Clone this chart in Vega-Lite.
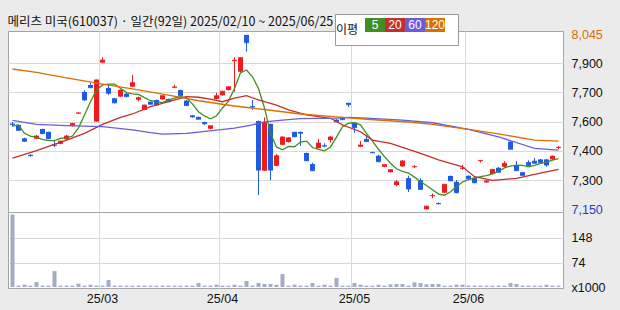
{
"$schema": "https://vega.github.io/schema/vega-lite/v6.json",
"background": "#ebebeb",
"padding": {"left": 7, "top": 13, "right": 40, "bottom": 30},
"bounds": "flush",
"title": {"text": "메리츠 미국(610037) · 일간(92일) 2025/02/10 ~ 2025/06/25", "anchor": "start", "font": "Noto Sans CJK KR", "fontSize": 12.5, "fontWeight": "normal", "color": "#111111", "offset": -15},
"spacing": 0,
"datasets": {
"candles": [
{"d":"2025-02-10","o":7590,"h":7598,"l":7575,"c":7584,"vol":219},
{"d":"2025-02-11","o":7583,"h":7586,"l":7553,"c":7555,"vol":4},
{"d":"2025-02-12","o":7514,"h":7518,"l":7497,"c":7499,"vol":7},
{"d":"2025-02-13","o":7430,"h":7432,"l":7420,"c":7425,"vol":4},
{"d":"2025-02-14","o":7512,"h":7532,"l":7510,"c":7526,"vol":15},
{"d":"2025-02-17","o":7562,"h":7564,"l":7536,"c":7538,"vol":4},
{"d":"2025-02-18","o":7547,"h":7549,"l":7510,"c":7512,"vol":4},
{"d":"2025-02-19","o":7482,"h":7500,"l":7470,"c":7478,"vol":48},
{"d":"2025-02-20","o":7486,"h":7502,"l":7484,"c":7500,"vol":4},
{"d":"2025-02-21","o":7509,"h":7532,"l":7505,"c":7526,"vol":4},
{"d":"2025-02-24","o":7577,"h":7593,"l":7575,"c":7591,"vol":4},
{"d":"2025-02-25","o":7641,"h":7647,"l":7639,"c":7645,"vol":10},
{"d":"2025-02-26","o":7752,"h":7762,"l":7706,"c":7711,"vol":4},
{"d":"2025-02-27","o":7788,"h":7800,"l":7772,"c":7774,"vol":7},
{"d":"2025-02-28","o":7600,"h":7816,"l":7598,"c":7814,"vol":4},
{"d":"2025-03-04","o":7903,"h":7930,"l":7901,"c":7916,"vol":4},
{"d":"2025-03-05","o":7773,"h":7792,"l":7737,"c":7745,"vol":21},
{"d":"2025-03-06","o":7720,"h":7722,"l":7693,"c":7696,"vol":4},
{"d":"2025-03-07","o":7728,"h":7764,"l":7726,"c":7762,"vol":4},
{"d":"2025-03-10","o":7743,"h":7750,"l":7725,"c":7728,"vol":4},
{"d":"2025-03-11","o":7779,"h":7839,"l":7777,"c":7800,"vol":4},
{"d":"2025-03-12","o":7712,"h":7728,"l":7703,"c":7723,"vol":4},
{"d":"2025-03-13","o":7660,"h":7687,"l":7658,"c":7685,"vol":4},
{"d":"2025-03-14","o":7702,"h":7704,"l":7687,"c":7689,"vol":4},
{"d":"2025-03-17","o":7711,"h":7713,"l":7683,"c":7685,"vol":4},
{"d":"2025-03-18","o":7714,"h":7735,"l":7712,"c":7733,"vol":4},
{"d":"2025-03-19","o":7716,"h":7718,"l":7700,"c":7702,"vol":4},
{"d":"2025-03-20","o":7774,"h":7790,"l":7772,"c":7778,"vol":4},
{"d":"2025-03-21","o":7762,"h":7764,"l":7731,"c":7733,"vol":4},
{"d":"2025-03-24","o":7708,"h":7710,"l":7680,"c":7682,"vol":4},
{"d":"2025-03-25","o":7632,"h":7634,"l":7620,"c":7624,"vol":4},
{"d":"2025-03-26","o":7624,"h":7626,"l":7610,"c":7612,"vol":12},
{"d":"2025-03-27","o":7598,"h":7600,"l":7582,"c":7589,"vol":4},
{"d":"2025-03-28","o":7563,"h":7581,"l":7561,"c":7579,"vol":4},
{"d":"2025-03-31","o":7716,"h":7748,"l":7714,"c":7733,"vol":7},
{"d":"2025-04-01","o":7735,"h":7758,"l":7733,"c":7756,"vol":4},
{"d":"2025-04-02","o":7762,"h":7781,"l":7760,"c":7779,"vol":4},
{"d":"2025-04-03","o":7910,"h":7930,"l":7754,"c":7915,"vol":7},
{"d":"2025-04-04","o":7856,"h":7930,"l":7854,"c":7928,"vol":4},
{"d":"2025-04-07","o":8045,"h":8045,"l":7959,"c":8005,"vol":18},
{"d":"2025-04-08","o":7679,"h":7711,"l":7660,"c":7675,"vol":4},
{"d":"2025-04-09","o":7603,"h":7605,"l":7223,"c":7351,"vol":12},
{"d":"2025-04-10","o":7348,"h":7622,"l":7346,"c":7596,"vol":9},
{"d":"2025-04-11","o":7588,"h":7590,"l":7300,"c":7351,"vol":9},
{"d":"2025-04-14","o":7373,"h":7433,"l":7371,"c":7425,"vol":7},
{"d":"2025-04-15","o":7481,"h":7525,"l":7479,"c":7521,"vol":39},
{"d":"2025-04-16","o":7495,"h":7521,"l":7492,"c":7517,"vol":4},
{"d":"2025-04-17","o":7547,"h":7549,"l":7520,"c":7522,"vol":7},
{"d":"2025-04-18","o":7547,"h":7549,"l":7476,"c":7540,"vol":4},
{"d":"2025-04-21","o":7439,"h":7441,"l":7397,"c":7399,"vol":4},
{"d":"2025-04-22","o":7382,"h":7389,"l":7346,"c":7348,"vol":12},
{"d":"2025-04-23","o":7464,"h":7511,"l":7462,"c":7490,"vol":4},
{"d":"2025-04-24","o":7478,"h":7488,"l":7468,"c":7474,"vol":7},
{"d":"2025-04-25","o":7505,"h":7526,"l":7493,"c":7521,"vol":4},
{"d":"2025-04-28","o":7610,"h":7612,"l":7597,"c":7599,"vol":27},
{"d":"2025-04-29","o":7622,"h":7624,"l":7608,"c":7610,"vol":4},
{"d":"2025-04-30","o":7696,"h":7698,"l":7676,"c":7687,"vol":4},
{"d":"2025-05-02","o":7594,"h":7596,"l":7543,"c":7569,"vol":12},
{"d":"2025-05-07","o":7471,"h":7500,"l":7469,"c":7480,"vol":7},
{"d":"2025-05-08","o":7511,"h":7526,"l":7495,"c":7497,"vol":4},
{"d":"2025-05-09","o":7444,"h":7446,"l":7438,"c":7440,"vol":4},
{"d":"2025-05-12","o":7425,"h":7430,"l":7392,"c":7394,"vol":7},
{"d":"2025-05-13","o":7368,"h":7381,"l":7366,"c":7379,"vol":4},
{"d":"2025-05-14","o":7341,"h":7356,"l":7338,"c":7353,"vol":8},
{"d":"2025-05-15","o":7274,"h":7300,"l":7270,"c":7291,"vol":9},
{"d":"2025-05-16","o":7370,"h":7403,"l":7368,"c":7398,"vol":9},
{"d":"2025-05-19","o":7310,"h":7322,"l":7239,"c":7254,"vol":4},
{"d":"2025-05-20","o":7366,"h":7376,"l":7362,"c":7370,"vol":14},
{"d":"2025-05-21","o":7300,"h":7310,"l":7250,"c":7252,"vol":12},
{"d":"2025-05-22","o":7150,"h":7168,"l":7150,"c":7166,"vol":8},
{"d":"2025-05-23","o":7217,"h":7231,"l":7206,"c":7221,"vol":9},
{"d":"2025-05-26","o":7182,"h":7186,"l":7176,"c":7178,"vol":9},
{"d":"2025-05-27","o":7235,"h":7280,"l":7233,"c":7278,"vol":4},
{"d":"2025-05-28","o":7321,"h":7323,"l":7294,"c":7296,"vol":4},
{"d":"2025-05-29","o":7291,"h":7300,"l":7232,"c":7235,"vol":7},
{"d":"2025-05-30","o":7358,"h":7377,"l":7352,"c":7362,"vol":7},
{"d":"2025-06-02","o":7322,"h":7324,"l":7305,"c":7307,"vol":4},
{"d":"2025-06-04","o":7312,"h":7314,"l":7284,"c":7286,"vol":4},
{"d":"2025-06-05","o":7397,"h":7403,"l":7390,"c":7401,"vol":4},
{"d":"2025-06-09","o":7288,"h":7298,"l":7286,"c":7296,"vol":4},
{"d":"2025-06-10","o":7331,"h":7357,"l":7329,"c":7355,"vol":4},
{"d":"2025-06-11","o":7363,"h":7368,"l":7338,"c":7340,"vol":4},
{"d":"2025-06-12","o":7368,"h":7397,"l":7366,"c":7386,"vol":4},
{"d":"2025-06-13","o":7497,"h":7502,"l":7456,"c":7458,"vol":12},
{"d":"2025-06-16","o":7377,"h":7397,"l":7346,"c":7348,"vol":9},
{"d":"2025-06-17","o":7340,"h":7342,"l":7322,"c":7324,"vol":4},
{"d":"2025-06-18","o":7392,"h":7401,"l":7373,"c":7375,"vol":4},
{"d":"2025-06-19","o":7399,"h":7413,"l":7384,"c":7386,"vol":4},
{"d":"2025-06-20","o":7406,"h":7408,"l":7387,"c":7389,"vol":4},
{"d":"2025-06-23","o":7406,"h":7408,"l":7368,"c":7377,"vol":7},
{"d":"2025-06-24","o":7406,"h":7425,"l":7404,"c":7423,"vol":4},
{"d":"2025-06-25","o":7464,"h":7476,"l":7459,"c":7468,"vol":4}
],
"ma": [
{"d":"2025-02-10","k":"5","v":7577},{"d":"2025-02-11","k":"5","v":7583},{"d":"2025-02-12","k":"5","v":7540},{"d":"2025-02-13","k":"5","v":7526},{"d":"2025-02-14","k":"5","v":7519},
{"d":"2025-02-17","k":"5","v":7509},{"d":"2025-02-18","k":"5","v":7502},{"d":"2025-02-19","k":"5","v":7502},{"d":"2025-02-20","k":"5","v":7514},{"d":"2025-02-21","k":"5","v":7517},
{"d":"2025-02-24","k":"5","v":7526},{"d":"2025-02-25","k":"5","v":7568},{"d":"2025-02-26","k":"5","v":7634},{"d":"2025-02-27","k":"5","v":7702},{"d":"2025-02-28","k":"5","v":7762},
{"d":"2025-03-04","k":"5","v":7788},{"d":"2025-03-05","k":"5","v":7792},{"d":"2025-03-06","k":"5","v":7792},{"d":"2025-03-07","k":"5","v":7771},
{"d":"2025-03-10","k":"5","v":7749},{"d":"2025-03-11","k":"5","v":7742},{"d":"2025-03-12","k":"5","v":7740},{"d":"2025-03-13","k":"5","v":7723},{"d":"2025-03-14","k":"5","v":7707},
{"d":"2025-03-17","k":"5","v":7702},{"d":"2025-03-18","k":"5","v":7697},{"d":"2025-03-19","k":"5","v":7711},{"d":"2025-03-20","k":"5","v":7720},{"d":"2025-03-21","k":"5","v":7728},
{"d":"2025-03-24","k":"5","v":7723},{"d":"2025-03-25","k":"5","v":7690},{"d":"2025-03-26","k":"5","v":7651},{"d":"2025-03-27","k":"5","v":7629},{"d":"2025-03-28","k":"5","v":7614},
{"d":"2025-03-31","k":"5","v":7630},
{"d":"2025-04-01","k":"5","v":7670},{"d":"2025-04-02","k":"5","v":7705},{"d":"2025-04-03","k":"5","v":7770},{"d":"2025-04-04","k":"5","v":7850},
{"d":"2025-04-07","k":"5","v":7865},{"d":"2025-04-08","k":"5","v":7830},{"d":"2025-04-09","k":"5","v":7770},{"d":"2025-04-10","k":"5","v":7670},{"d":"2025-04-11","k":"5","v":7540},
{"d":"2025-04-14","k":"5","v":7470},{"d":"2025-04-15","k":"5","v":7455},{"d":"2025-04-16","k":"5","v":7473},{"d":"2025-04-17","k":"5","v":7471},{"d":"2025-04-18","k":"5","v":7495},
{"d":"2025-04-21","k":"5","v":7500},{"d":"2025-04-22","k":"5","v":7467},{"d":"2025-04-23","k":"5","v":7458},{"d":"2025-04-24","k":"5","v":7450},{"d":"2025-04-25","k":"5","v":7470},
{"d":"2025-04-28","k":"5","v":7520},{"d":"2025-04-29","k":"5","v":7574},{"d":"2025-04-30","k":"5","v":7592},
{"d":"2025-05-02","k":"5","v":7594},{"d":"2025-05-07","k":"5","v":7583},{"d":"2025-05-08","k":"5","v":7540},{"d":"2025-05-09","k":"5","v":7500},
{"d":"2025-05-12","k":"5","v":7458},{"d":"2025-05-13","k":"5","v":7420},{"d":"2025-05-14","k":"5","v":7386},{"d":"2025-05-15","k":"5","v":7358},{"d":"2025-05-16","k":"5","v":7345},
{"d":"2025-05-19","k":"5","v":7336},{"d":"2025-05-20","k":"5","v":7315},{"d":"2025-05-21","k":"5","v":7291},{"d":"2025-05-22","k":"5","v":7272},{"d":"2025-05-23","k":"5","v":7250},
{"d":"2025-05-26","k":"5","v":7228},{"d":"2025-05-27","k":"5","v":7222},{"d":"2025-05-28","k":"5","v":7240},{"d":"2025-05-29","k":"5","v":7265},{"d":"2025-05-30","k":"5","v":7290},
{"d":"2025-06-02","k":"5","v":7302},{"d":"2025-06-04","k":"5","v":7310},{"d":"2025-06-05","k":"5","v":7317},
{"d":"2025-06-09","k":"5","v":7323},{"d":"2025-06-10","k":"5","v":7332},{"d":"2025-06-11","k":"5","v":7345},{"d":"2025-06-12","k":"5","v":7362},{"d":"2025-06-13","k":"5","v":7372},
{"d":"2025-06-16","k":"5","v":7377},{"d":"2025-06-17","k":"5","v":7375},{"d":"2025-06-18","k":"5","v":7368},{"d":"2025-06-19","k":"5","v":7375},{"d":"2025-06-20","k":"5","v":7386},
{"d":"2025-06-23","k":"5","v":7392},{"d":"2025-06-24","k":"5","v":7402},{"d":"2025-06-25","k":"5","v":7410},
{"d":"2025-02-10","k":"20","v":7412},{"d":"2025-02-14","k":"20","v":7451},{"d":"2025-02-21","k":"20","v":7505},{"d":"2025-02-26","k":"20","v":7540},{"d":"2025-03-04","k":"20","v":7586},
{"d":"2025-03-07","k":"20","v":7622},{"d":"2025-03-11","k":"20","v":7639},{"d":"2025-03-14","k":"20","v":7677},{"d":"2025-03-19","k":"20","v":7702},{"d":"2025-03-24","k":"20","v":7728},
{"d":"2025-03-26","k":"20","v":7725},{"d":"2025-03-28","k":"20","v":7715},{"d":"2025-04-01","k":"20","v":7702},{"d":"2025-04-03","k":"20","v":7720},{"d":"2025-04-07","k":"20","v":7733},
{"d":"2025-04-09","k":"20","v":7711},{"d":"2025-04-14","k":"20","v":7685},{"d":"2025-04-16","k":"20","v":7660},{"d":"2025-04-21","k":"20","v":7634},{"d":"2025-04-25","k":"20","v":7617},
{"d":"2025-04-29","k":"20","v":7583},{"d":"2025-05-07","k":"20","v":7548},{"d":"2025-05-09","k":"20","v":7505},{"d":"2025-05-14","k":"20","v":7488},{"d":"2025-05-16","k":"20","v":7468},
{"d":"2025-05-21","k":"20","v":7437},{"d":"2025-05-26","k":"20","v":7403},{"d":"2025-05-30","k":"20","v":7368},{"d":"2025-06-04","k":"20","v":7317},{"d":"2025-06-10","k":"20","v":7298},
{"d":"2025-06-16","k":"20","v":7309},{"d":"2025-06-19","k":"20","v":7329},{"d":"2025-06-25","k":"20","v":7355},
{"d":"2025-02-10","k":"60","v":7606},{"d":"2025-02-14","k":"60","v":7586},{"d":"2025-02-21","k":"60","v":7579},{"d":"2025-03-04","k":"60","v":7574},{"d":"2025-03-11","k":"60","v":7557},
{"d":"2025-03-14","k":"60","v":7543},{"d":"2025-03-18","k":"60","v":7536},{"d":"2025-03-24","k":"60","v":7540},{"d":"2025-03-26","k":"60","v":7546},{"d":"2025-04-03","k":"60","v":7566},
{"d":"2025-04-08","k":"60","v":7583},{"d":"2025-04-10","k":"60","v":7599},{"d":"2025-04-15","k":"60","v":7608},{"d":"2025-04-18","k":"60","v":7615},{"d":"2025-04-28","k":"60","v":7618},
{"d":"2025-04-30","k":"60","v":7622},{"d":"2025-05-08","k":"60","v":7618},{"d":"2025-05-16","k":"60","v":7608},{"d":"2025-05-23","k":"60","v":7594},{"d":"2025-06-02","k":"60","v":7560},
{"d":"2025-06-11","k":"60","v":7522},{"d":"2025-06-19","k":"60","v":7463},{"d":"2025-06-25","k":"60","v":7454},
{"d":"2025-02-10","k":"120","v":7870},{"d":"2025-02-14","k":"120","v":7853},{"d":"2025-02-21","k":"120","v":7824},{"d":"2025-03-04","k":"120","v":7792},{"d":"2025-03-11","k":"120","v":7768},
{"d":"2025-03-19","k":"120","v":7736},{"d":"2025-03-26","k":"120","v":7707},{"d":"2025-04-03","k":"120","v":7680},{"d":"2025-04-10","k":"120","v":7662},{"d":"2025-04-18","k":"120","v":7639},
{"d":"2025-04-28","k":"120","v":7624},{"d":"2025-05-08","k":"120","v":7612},{"d":"2025-05-19","k":"120","v":7598},{"d":"2025-05-23","k":"120","v":7586},{"d":"2025-06-02","k":"120","v":7560},
{"d":"2025-06-11","k":"120","v":7537},{"d":"2025-06-19","k":"120","v":7505},{"d":"2025-06-25","k":"120","v":7500}
]
},
"vconcat": [
{
"width": 555, "height": 181,
"encoding": {
  "x": {"field": "d", "type": "ordinal", "scale": {"paddingInner": 0, "paddingOuter": 0.25},
        "axis": {"labels": false, "ticks": false, "domain": false, "title": null, "bandPosition": 0, "grid": true, "gridColor": "#d9d9d9", "minExtent": 0, "maxExtent": 0, "offset": 0, "labelPadding": 0,
                 "gridOpacity": {"condition": {"test": "indexof(['2025-03-04','2025-04-01','2025-05-02','2025-06-02'], datum.value) >= 0", "value": 1}, "value": 0}}}
},
"layer": [
{"data": {"name": "candles"}, "mark": {"type": "rule", "strokeWidth": 1},
 "encoding": {
  "y": {"field": "l", "type": "quantitative", "scale": {"domain": [7136, 8065], "nice": false, "zero": false},
        "axis": {"orient": "right", "values": [7150, 7300, 7450, 7600, 7750, 7900, 8045], "tickCount": 20, "title": null, "ticks": false, "domain": false, "labelPadding": 8, "labelOverlap": false,
                 "labelExpr": "datum.value == 8045 ? '8,045' : datum.value == 7150 ? '7,150' : datum.value == 7300 ? '7,300' : datum.value == 7450 ? '7,400' : datum.value == 7600 ? '7,600' : datum.value == 7750 ? '7,700' : '7,900'",
                 "labelColor": {"condition": [{"test": "datum.value == 8045", "value": "#dc7000"}, {"test": "datum.value == 7150", "value": "#1a3cd0"}], "value": "#111111"},
                 "gridColor": "#d9d9d9",
                 "gridOpacity": {"condition": {"test": "datum.value == 8045 || datum.value == 7150", "value": 0}, "value": 1}}},
  "y2": {"field": "h"},
  "color": {"condition": {"test": "datum.c >= datum.o", "value": "#ee1c1c"}, "value": "#1f5ae3"}
 }},
{"data": {"name": "candles"}, "mark": {"type": "bar", "width": 5},
 "encoding": {
  "y": {"field": "o", "type": "quantitative"},
  "y2": {"field": "c"},
  "color": {"condition": {"test": "datum.c >= datum.o", "value": "#ee1c1c"}, "value": "#1f5ae3"}
 }},
{"data": {"name": "candles"}, "mark": {"type": "tick", "thickness": 1, "size": 5},
 "encoding": {
  "y": {"field": "c", "type": "quantitative"},
  "color": {"condition": {"test": "datum.c >= datum.o", "value": "#ee1c1c"}, "value": "#1f5ae3"}
 }},
{"data": {"name": "ma"}, "mark": {"type": "line", "strokeWidth": 1.3},
 "encoding": {
  "y": {"field": "v", "type": "quantitative"},
  "color": {"field": "k", "type": "nominal", "scale": {"domain": ["5", "20", "60", "120"], "range": ["#3f8f22", "#c4302c", "#6a5cdc", "#d97000"]},
            "legend": {"orient": "none", "legendX": 327, "legendY": -17, "direction": "horizontal", "title": "이평", "titleOrient": "left", "titlePadding": 6,
                       "titleFont": "Noto Sans CJK KR", "titleFontSize": 12, "titleFontWeight": "normal", "titleColor": "#111111",
                       "labelFont": "Liberation Sans", "labelFontSize": 12, "labelColor": "#ffffff", "labelAlign": "center", "labelOffset": -10,
                       "symbolType": "M-1,-0.5H1V0.5H-1Z", "symbolSize": 144, "symbolStrokeWidth": 8, "columnPadding": -24, "gridAlign": "none",
                       "fillColor": "#ffffff", "strokeColor": "#9a9a9a", "padding": 1}}
 }}
]
},
{
"width": 555, "height": 76,
"data": {"name": "candles"},
"mark": {"type": "bar", "width": 4, "color": "#a3abc5"},
"encoding": {
 "x": {"field": "d", "type": "ordinal", "scale": {"paddingInner": 0, "paddingOuter": 0.25},
       "axis": {"ticks": false, "domain": false, "title": null, "bandPosition": 0, "grid": true, "gridColor": "#d9d9d9", "labelAngle": 0, "labelOverlap": false, "labelPadding": 4,
                "labelExpr": "datum.value == '2025-03-04' ? '25/03' : datum.value == '2025-04-01' ? '25/04' : datum.value == '2025-05-02' ? '25/05' : datum.value == '2025-06-02' ? '25/06' : ''",
                "gridOpacity": {"condition": {"test": "indexof(['2025-03-04','2025-04-01','2025-05-02','2025-06-02'], datum.value) >= 0", "value": 1}, "value": 0}}},
 "y": {"field": "vol", "type": "quantitative", "scale": {"domain": [-3, 226.5], "nice": false},
       "axis": {"orient": "right", "values": [0, 74, 148], "tickCount": 20, "title": null, "ticks": false, "domain": false, "labelPadding": 8, "labelOverlap": false,
                "labelExpr": "datum.value == 0 ? 'x1000' : datum.label", "gridColor": "#d9d9d9",
                "gridOpacity": {"condition": {"test": "datum.value == 0", "value": 0}, "value": 1}}}
}
}
],
"resolve": {"scale": {"x": "independent"}},
"config": {
 "view": {"stroke": "#a5a5a5", "fill": "#ffffff"},
 "axis": {"labelFont": "Liberation Sans", "labelFontSize": 12.5, "labelColor": "#111111", "labelOverlap": false}
}
}
